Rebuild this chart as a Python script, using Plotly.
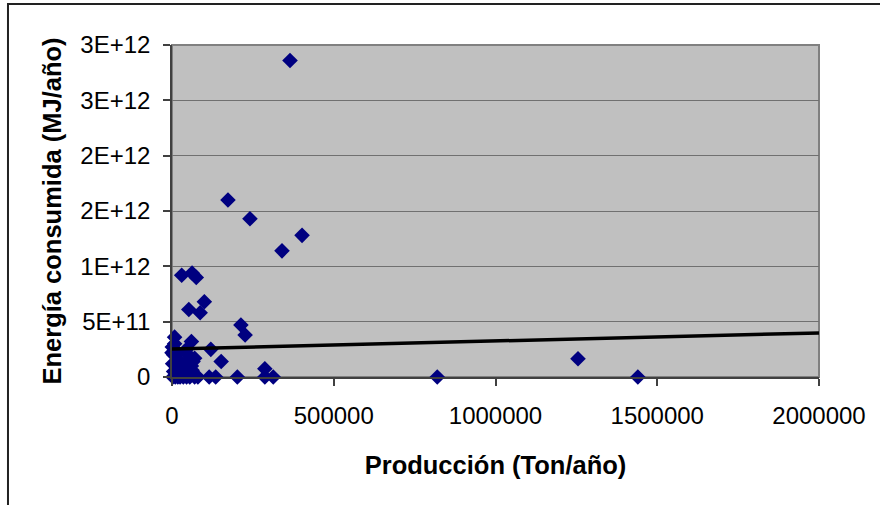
import plotly.graph_objects as go

# Data
produccion = [364800, 173000, 241000, 402000, 340000, 30000, 62000, 75000,
              52000, 87000, 100000, 213000, 226000, 8000, 60000, 120000,
              152000, 287000, 287000, 313000, 202000, 135000, 115000, 820000,
              1255000, 1440000, 3000, 10000, 18000, 25000, 35000, 45000,
              55000, 70000, 80000, 5000, 15000, 28000, 40000, 62000, 2000,
              12000, 22000, 40000, 70000, 5000, 18000, 1000, 45000, 8000,
              50000, 60000, 65000, 0]
energia = [2.86e12, 1.60e12, 1.43e12, 1.28e12, 1.14e12, 0.92e12, 0.94e12, 0.90e12,
           0.61e12, 0.58e12, 0.68e12, 0.47e12, 0.38e12, 0.36e12, 0.32e12, 0.25e12,
           0.14e12, 0.075e12, 0.0, 0.0, 0.0, 0.0, 0.0, 0.0,
           0.165e12, 0.0, 0.0, 0.0, 0.0, 0.0, 0.0, 0.0,
           0.0, 0.0, 0.0, 0.05e12, 0.03e12, 0.07e12, 0.04e12, 0.06e12, 0.12e12,
           0.10e12, 0.15e12, 0.12e12, 0.17e12, 0.20e12, 0.22e12, 0.27e12, 0.25e12, 0.30e12,
           0.20e12, 0.10e12, 0.14e12, 0.22e12]

trend_x = [0, 2000000]
trend_y = [2.53e11, 3.98e11]

x_tickvals = [0, 500000, 1000000, 1500000, 2000000]
x_ticktext = ["0", "500000", "1000000", "1500000", "2000000"]
y_tickvals = [0, 5e11, 1e12, 1.5e12, 2e12, 2.5e12, 3e12]
y_ticktext = ["0", "5E+11", "1E+12", "2E+12", "2E+12", "3E+12", "3E+12"]

FONT = "Liberation Sans, Arial, sans-serif"

fig = go.Figure()
fig.add_trace(go.Scatter(
    x=produccion, y=energia, mode="markers",
    marker=dict(symbol="diamond", size=12, color="#000080", line=dict(width=0)),
    showlegend=False, cliponaxis=False))
fig.add_trace(go.Scatter(
    x=trend_x, y=trend_y, mode="lines",
    line=dict(color="black", width=3.5), showlegend=False))

fig.update_layout(
    width=880, height=505,
    margin=dict(l=172, r=61, t=45, b=128),
    paper_bgcolor="white", plot_bgcolor="#C0C0C0",
    font=dict(family=FONT, size=24, color="black"),
    xaxis=dict(range=[0, 2000000], tickvals=x_tickvals, ticktext=x_ticktext,
               showgrid=False, zeroline=False, ticks="outside", ticklen=7,
               tickcolor="#404040", tickwidth=1.5,
               showline=True, linecolor="#404040", linewidth=1.5,
               tickfont=dict(size=24), ticklabelstandoff=9,
               title=dict(text="<b>Producción (Ton/año)</b>", font=dict(size=25.5), standoff=29)),
    yaxis=dict(range=[0, 3e12], tickvals=y_tickvals, ticktext=y_ticktext,
               showgrid=True, gridcolor="#707070", gridwidth=1, zeroline=False,
               ticks="outside", ticklen=7, tickcolor="#404040", tickwidth=1.5,
               showline=True, linecolor="#404040", linewidth=1.5,
               tickfont=dict(size=24), ticklabelstandoff=8,
               title=dict(text="<b>Energía consumida (MJ/año)</b>", font=dict(size=25.5), standoff=11)),
    shapes=[
        dict(type="rect", xref="paper", yref="paper", x0=0, x1=1, y0=0, y1=1,
             line=dict(color="#808080", width=2), layer="below"),
        dict(type="rect", xref="paper", yref="paper", x0=-0.2535, x1=2, y0=-1, y1=1.1235,
             line=dict(color="#222222", width=2), fillcolor="rgba(0,0,0,0)", layer="below"),
    ],
)

fig.write_html("out.html")
